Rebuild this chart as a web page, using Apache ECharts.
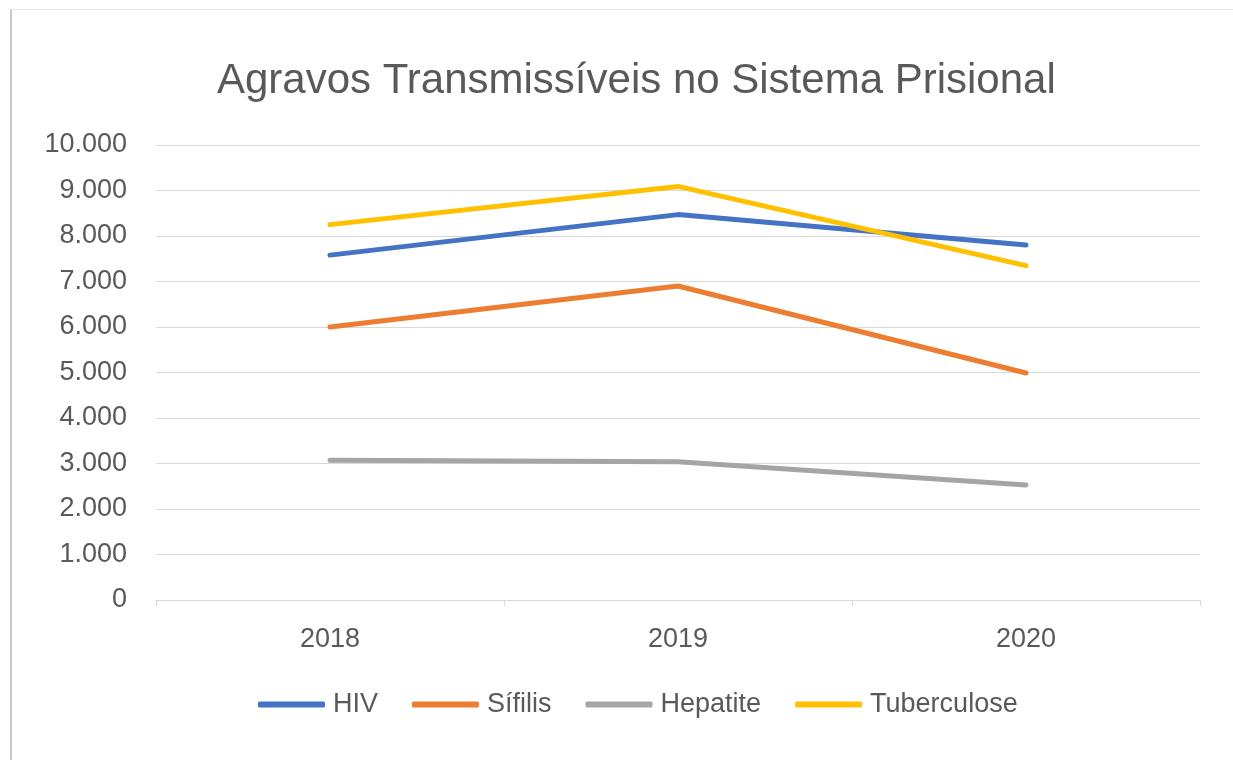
<!DOCTYPE html>
<html>
<head>
<meta charset="utf-8">
<script src="https://cdn.jsdelivr.net/npm/echarts@6/dist/echarts.min.js"></script>
<style>
html,body{margin:0;padding:0;background:#fff;}
#frame{position:absolute;left:10px;top:9px;width:1223px;height:751px;border-left:2px solid #c8c8c8;border-top:1px solid #e4e4e4;box-sizing:border-box;}
#chart{position:absolute;left:0;top:0;width:1233px;height:760px;}
</style>
</head>
<body>
<div id="frame"></div>
<div id="chart"></div>
<script>
const titleText = 'Agravos Transmissíveis no Sistema Prisional';
const categories = ['2018', '2019', '2020'];
const hiv = [7580, 8470, 7800];
const sifilis = [6000, 6900, 4990];
const hepatite = [3070, 3040, 2530];
const tuberculose = [8250, 9090, 7350];
const seriesNames = ['HIV', 'Sífilis', 'Hepatite', 'Tuberculose'];
const colors = ['#4472C4', '#ED7D31', '#A5A5A5', '#FFC000'];

const FONT = '"Liberation Sans", sans-serif';
const chart = echarts.init(document.getElementById('chart'), null, {renderer: 'canvas'});
const dataSets = [hiv, sifilis, hepatite, tuberculose];
chart.setOption({
  animation: false,
  backgroundColor: 'transparent',
  color: colors,
  title: {
    text: titleText,
    left: 212,
    top: 55,
    textStyle: {fontFamily: FONT, fontSize: 42, fontWeight: 'normal', color: '#595959'}
  },
  legend: {
    bottom: 37,
    left: 253,
    icon: 'roundRect',
    itemWidth: 67,
    itemHeight: 6,
    itemGap: 34,
    textStyle: {fontFamily: FONT, fontSize: 27, color: '#595959', padding: [0, 0, 0, 3]},
    data: seriesNames
  },
  grid: {left: 156, right: 33, top: 145, bottom: 160, containLabel: false},
  xAxis: {
    type: 'category',
    data: categories,
    boundaryGap: true,
    axisLine: {lineStyle: {color: '#d9d9d9', width: 1}},
    axisTick: {show: true, length: 6, lineStyle: {color: '#d9d9d9'}},
    axisLabel: {fontFamily: FONT, fontSize: 27, color: '#595959', margin: 26}
  },
  yAxis: {
    type: 'value',
    min: 0,
    max: 10000,
    interval: 1000,
    axisLine: {show: false},
    axisTick: {show: false},
    splitLine: {lineStyle: {color: '#d9d9d9', width: 1}},
    axisLabel: {
      fontFamily: FONT, fontSize: 27, color: '#595959', margin: 29,
      formatter: v => v.toString().replace(/\B(?=(\d{3})+(?!\d))/g, '.')
    }
  },
  series: seriesNames.map((n, i) => ({
    name: n,
    type: 'line',
    data: dataSets[i],
    showSymbol: false,
    symbol: 'none',
    lineStyle: {width: 5, color: colors[i], cap: 'round', join: 'round'},
    itemStyle: {color: colors[i]}
  }))
});
</script>
</body>
</html>
